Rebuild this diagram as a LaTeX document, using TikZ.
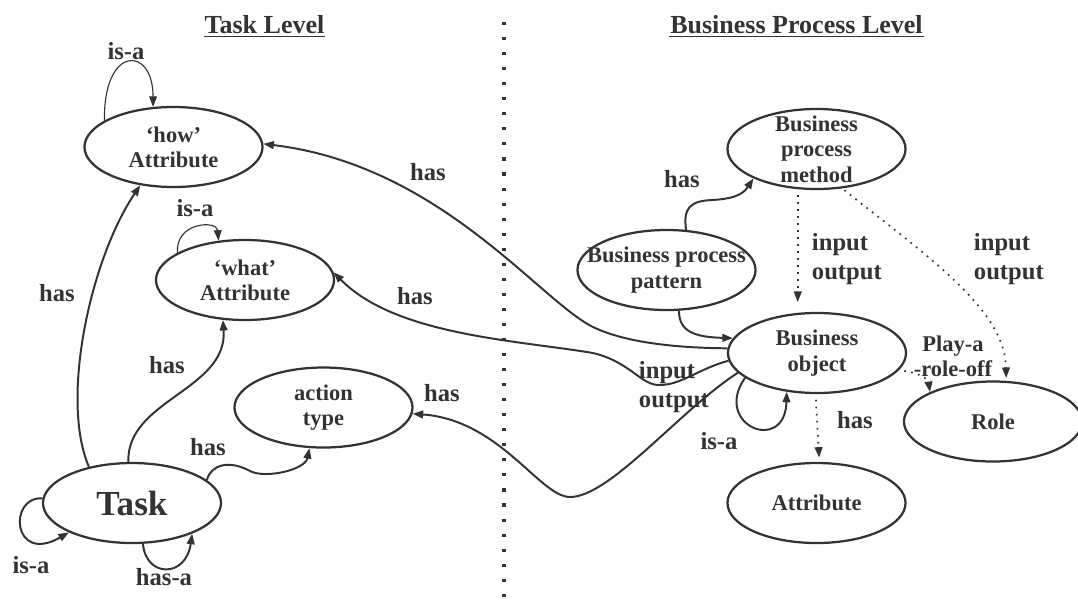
\documentclass[tikz,border=0pt]{standalone}
\usepackage{fontspec}
\setmainfont{Liberation Serif}
\usetikzlibrary{shapes.geometric,arrows.meta}
\definecolor{ink}{HTML}{333333}
\begin{document}
\begin{tikzpicture}[x=0.025cm,y=-0.025cm,->,>={Triangle[length=7.5pt,width=5.5pt]},line width=1.4pt,color=ink]
				\tikzstyle{concept} = [ellipse,draw,line width=1.6pt,minimum width=4.45cm,minimum height=2cm,inner sep=0pt,align=center,font=\fontsize{16}{18}\selectfont\bfseries]
				\tikzstyle{lbl} = [inner sep=0pt,align=left,font=\fontsize{17.5}{20.5}\selectfont\bfseries]
				\tikzstyle{title} = [inner sep=0pt,font=\fontsize{18.5}{22}\selectfont\bfseries]
				\tikzstyle{ioflow} = [line width=1.2pt,dash pattern=on 1.2pt off 3.8pt]
				\tikzstyle{selfref} = [line width=0.8pt]
				\useasboundingbox (0,0) rectangle (1078,601);
				
				% levels
				\node[title] (tasklvl) at (264.5,24.2) {Task Level};
				\node[title] (bplvl) at (796.5,24.2) {Business Process Level};
				\draw[-,line width=1.1pt] ([yshift=-1.4pt]tasklvl.south west) -- ([yshift=-1.4pt]tasklvl.south east);
				\draw[-,line width=1.1pt] ([yshift=-1.4pt]bplvl.south west) -- ([yshift=-1.4pt]bplvl.south east);
				\coordinate (septop) at (504,22);
				\coordinate (sepbot) at (504,601);
				\draw[-,line width=2.2pt,dash pattern=on 2.2pt off 8.5pt] (septop) -- (sepbot);
				
				\node[concept] (how) at (173.5,147) {`how'\\Attribute};
				\node[concept] (what) at (245,280) {`what'\\Attribute};
				\node[concept] (action) at (323.5,407.5) {action\\type};
				\node[concept,font=\fontsize{25}{28}\selectfont\bfseries] (task) at (132,503) {Task};
				\node[concept,inner ysep=-4pt] (method) at (816.5,149) {Business\\process\\method};
				\node[concept,inner xsep=-12pt] (pattern) at (666.5,270) {Business process\\pattern};
				\node[concept] (bobj) at (817,353) {Business\\object};
				\node[concept] (role) at (993,421.5) {Role};
				\node[concept] (attr) at (816.5,503) {Attribute};
				
				% task level
				\draw[selfref] (how.159) .. controls (103,45) and (153,45) .. (how.117);
				\node[lbl] (lisa1) at (126,51) {is-a};
				\draw[selfref] (what.158) .. controls (175,222) and (217,220) .. (what.124);
				\node[lbl] (lisa2) at (195,208) {is-a};
				\draw (task.140) .. controls (60,400) and (90,260) .. (how.-131);
				\node[lbl] (lhas1) at (57,293) {has};
				\draw (task.95) .. controls (126,400) and (228,390) .. (what.-119);
				\node[lbl] (lhas2) at (167,365) {has};
				\draw (task.17) .. controls (211,464) and (230,460) .. (250,471) .. controls (265,479) and (305,470) .. (action.-109);
				\node[lbl] (lhas3) at (208,447) {has};
				\draw (task.177) .. controls (8,496) and (12,565) .. (task.205);
				\node[lbl] (lisa3) at (31,565) {is-a};
				\draw (task.-75) .. controls (146,578) and (186,578) .. (task.-27);
				\node[lbl] (lhasa) at (164,577) {has-a};
				
				% business process level
				\draw (bobj.177) .. controls (690,348) and (630,345) .. (593,327) .. controls (540,301) and (440,165) .. (how.2);
				\node[lbl] (lhas4) at (428,172) {has};
				\draw (bobj.185) .. controls (700,368) and (680,386) .. (658,385) .. controls (640,384) and (630,362) .. (593,353) .. controls (515,340) and (395,335) .. (what.5);
				\node[lbl] (lhas5) at (415,296) {has};
				\draw (bobj.194) .. controls (680,410) and (610,497) .. (570,497) .. controls (540,497) and (500,420) .. (action.-4);
				\node[lbl] (lhas6) at (442,393) {has};
				\node[lbl,anchor=west] (lio1) at (638,387) {input\\output};
				\draw (pattern.64) .. controls (683,208) and (690,201) .. (712,200) .. controls (730,199) and (742,196) .. (method.-155);
				\node[lbl] (lhas7) at (682,179) {has};
				\draw (pattern.-73) .. controls (679,332) and (695,337) .. (bobj.170);
				\draw[ioflow,shorten <=4pt,shorten >=7pt] (method.-115) -- (method.-115 |- bobj.north);
				\node[lbl,anchor=west] (lio2) at (811,259) {input\\output};
				\draw[ioflow,shorten <=2pt,shorten >=2pt] (method.-57) .. controls (930,258) and (1005,310) .. (role.72);
				\node[lbl,anchor=west] (lio3) at (973,259) {input\\output};
				\draw[ioflow,shorten <=4pt] (bobj.-12) .. controls (915,372) and (928,378) .. (role.155);
				\node[lbl,align=center,font=\fontsize{16}{17.8}\selectfont\bfseries] (lplay) at (953,356) {Play-a\\-role-off};
				\draw (bobj.199) .. controls (712,425) and (785,455) .. (bobj.-128);
				\node[lbl] (lisa4) at (719,441) {is-a};
				\draw[ioflow,shorten <=4pt,shorten >=3pt] (bobj.-92) -- (attr.86);
				\node[lbl] (lhas8) at (855,420) {has};
			\end{tikzpicture}
\end{document}
